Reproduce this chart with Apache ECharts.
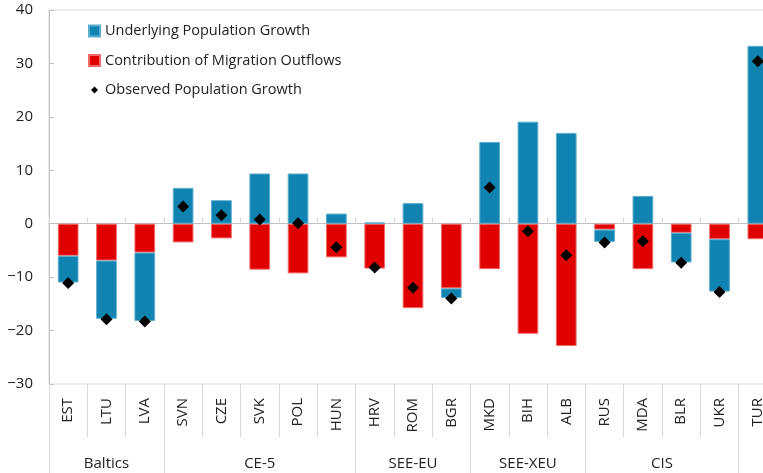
<!DOCTYPE html>
<html>
<head>
<meta charset="utf-8">
<script src="https://cdn.jsdelivr.net/npm/echarts@6/dist/echarts.min.js"></script>
<style>
html,body{margin:0;padding:0;background:#fff;}
#chart{width:763px;height:473px;}
</style>
</head>
<body>
<div id="chart"></div>
<script>
var categories = ['EST','LTU','LVA','SVN','CZE','SVK','POL','HUN','HRV','ROM','BGR','MKD','BIH','ALB','RUS','MDA','BLR','UKR','TUR'];
var underlying = [-5.0,-10.9,-12.8,6.7,4.4,9.4,9.4,1.9,0.25,3.85,-1.8,15.3,19.1,17.0,-2.3,5.2,-5.55,-9.8,33.3];
var migration = [-6.0,-6.9,-5.4,-3.5,-2.75,-8.6,-9.3,-6.3,-8.4,-15.8,-12.1,-8.5,-20.6,-22.9,-1.1,-8.5,-1.7,-2.9,-2.9];
var observed = [-11.1,-17.9,-18.3,3.2,1.6,0.8,0.1,-4.4,-8.2,-12.0,-14.0,6.8,-1.4,-5.9,-3.5,-3.3,-7.3,-12.8,30.4];
var groupNames = ['Baltics','CE-5','SEE-EU','SEE-XEU','CIS',''];
var groupSizes = [3,5,3,3,4,1];

var FONT = 'Open Sans';
var groupBounds = [], groupCenters = [], groupLabelMap = {};
(function(){
  var acc = 0;
  for (var i = 0; i < groupSizes.length; i++) {
    groupBounds.push(acc);
    var c = acc + groupSizes[i] / 2;
    if (groupNames[i]) { groupCenters.push(c); groupLabelMap[c] = groupNames[i]; }
    acc += groupSizes[i];
  }
})();

var chart = echarts.init(document.getElementById('chart'));
chart.setOption({
  animation: false,
  textStyle: {fontFamily: FONT},
  grid: {left: 49, right: -14, top: 10, bottom: 89, show: true, borderColor: '#d9d9d9', borderWidth: 1,
         containLabel: false, outerBoundsMode: 'none'},
  legend: {
    orient: 'vertical', left: 83, top: 17, itemGap: 11.5, itemWidth: 11, itemHeight: 11,
    textStyle: {fontFamily: FONT, fontSize: 14.5, color: '#222', lineHeight: 18},
    data: [
      {name: 'Underlying Population Growth', icon: 'rect'},
      {name: 'Contribution of Migration Outflows', icon: 'rect'},
      {name: 'Observed Population Growth', icon: 'path://M0,0 M11,11 M5.5,2 L9,5.5 L5.5,9 L2,5.5 Z'}
    ]
  },
  xAxis: [
    {
      type: 'category', data: categories, gridIndex: 0,
      axisLine: {onZero: true, lineStyle: {color: '#bfbfbf', width: 1}},
      axisTick: {show: true, inside: true, length: 6, lineStyle: {color: '#d9d9d9'}},
      axisLabel: {show: false}
    },
    {
      type: 'category', data: categories, gridIndex: 0, position: 'bottom',
      axisLine: {show: false, onZero: false},
      axisTick: {show: true, length: 53, lineStyle: {color: '#d9d9d9'}},
      axisLabel: {rotate: 90, margin: 14, fontSize: 15, color: '#222', fontFamily: FONT}
    },
    {
      type: 'value', min: 0, max: categories.length, gridIndex: 0, position: 'bottom',
      axisLine: {show: false, onZero: false},
      splitLine: {show: false},
      axisTick: {show: true, customValues: groupBounds, length: 90, lineStyle: {color: '#d9d9d9'}},
      axisLabel: {customValues: groupCenters, margin: 72, fontSize: 15, color: '#222', fontFamily: FONT,
        formatter: function (v) { return groupLabelMap[v] || ''; }}
    }
  ],
  yAxis: {
    type: 'value', min: -30, max: 40, interval: 10,
    axisLine: {show: true, lineStyle: {color: '#bfbfbf'}},
    axisTick: {show: true, inside: true, length: 5, lineStyle: {color: '#bfbfbf'}},
    splitLine: {show: false},
    axisLabel: {fontSize: 15, color: '#222', margin: 16, fontFamily: FONT,
      formatter: function (v) { return String(v).replace('-', '\u2212'); }}
  },
  series: [
    {
      name: 'Contribution of Migration Outflows', type: 'bar', stack: 'total', xAxisIndex: 0,
      data: migration, barWidth: '54%',
      itemStyle: {color: '#e00000', borderColor: '#f06a6a', borderWidth: 1}
    },
    {
      name: 'Underlying Population Growth', type: 'bar', stack: 'total', xAxisIndex: 0,
      data: underlying, barWidth: '54%',
      itemStyle: {color: '#1083b0', borderColor: '#5aaed0', borderWidth: 1}
    },
    {
      name: 'Observed Population Growth', type: 'scatter', xAxisIndex: 0,
      data: observed, symbol: 'diamond', symbolSize: 12, z: 5,
      itemStyle: {color: '#000', opacity: 1}
    }
  ]
});
</script>
</body>
</html>
